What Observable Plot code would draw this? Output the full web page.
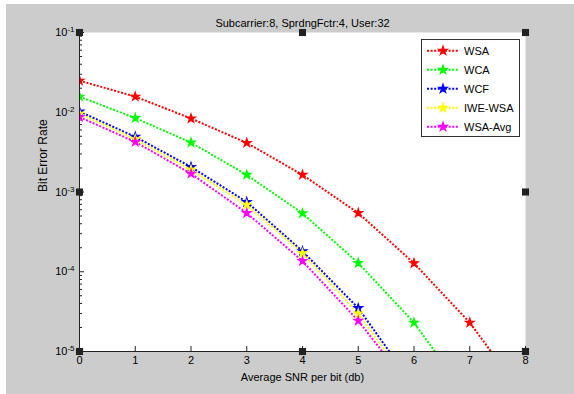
<!DOCTYPE html>
<html><head><meta charset="utf-8">
<script src="https://cdn.jsdelivr.net/npm/d3@7"></script>
<script src="https://cdn.jsdelivr.net/npm/@observablehq/plot@0.6"></script>
<style>
body{margin:0;background:#fff;font-family:"Liberation Sans",Arial,sans-serif;}
#wrap{position:relative;width:574px;height:394px;overflow:hidden}
#bg{position:absolute;left:6px;top:4px;right:0;bottom:0;background:#cccccc}
#chart{position:absolute;left:0;top:0}
#legend{position:absolute;left:421px;top:39px;width:99px;height:98px;border:1px solid #333;background:#fff;box-sizing:border-box}
#legend svg{display:block}
</style></head><body>
<div id="wrap"><div id="bg"></div><div id="chart"></div><div id="legend"></div></div>
<script>
// ---- data ----
const snr = [0, 1, 2, 3, 4, 5, 6, 7, 8];
const seriesNames = ["WSA", "WCA", "WCF", "IWE-WSA", "WSA-Avg"];
const seriesColors = ["#ff0000", "#00ff00", "#0000ff", "#ffff00", "#ff00ff"];
const wsa = [0.0249, 0.0157, 0.00836, 0.00413, 0.00164, 5.45e-4, 1.28e-4, 2.3e-5, 2.6e-6];
const wca = [0.0157, 0.00845, 0.00417, 0.00164, 5.4e-4, 1.29e-4, 2.3e-5, 2.5e-6, null];
const wcf = [0.0102, 0.00492, 0.00206, 7.5e-4, 1.81e-4, 3.5e-5, 3.7e-6, null, null];
const iwe = [0.0096, 0.0046, 0.0019, 6.9e-4, 1.71e-4, 3.0e-5, 3.3e-6, null, null];
const avg = [0.0087, 0.00425, 0.0017, 5.45e-4, 1.36e-4, 2.43e-5, 3.1e-6, null, null];
const titleText = "Subcarrier:8, SprdngFctr:4, User:32";
const xLabel = "Average SNR per bit (db)";
const yLabel = "Bit Error Rate";
const xDomain = [0, 8];
const yDomain = [1e-5, 1e-1];
const yDecades = [1e-5, 1e-4, 1e-3, 1e-2, 1e-1];

// ---- build table ----
const seriesValues = [wsa, wca, wcf, iwe, avg];
const rows = [];
seriesNames.forEach((name, i) => {
  seriesValues[i].forEach((v, j) => { if (v != null) rows.push({series: name, snr: snr[j], ber: v}); });
});
const yMinor = yDecades.slice(0, -1).flatMap(d => [2,3,4,5,6,7,8,9].map(m => m * d));
const handleAnchors = ["top-left","top","top-right","left","right","bottom-left","bottom","bottom-right"];
const axisColor = "#222";
const starR = 2.7;

const chart = Plot.plot({
  width: 574, height: 394,
  marginLeft: 79, marginRight: 49, marginTop: 32, marginBottom: 43,
  style: {background: "transparent", fontFamily: "'Liberation Sans', Arial, sans-serif", fontSize: "11px", color: "#000"},
  x: {domain: xDomain, axis: null},
  y: {type: "log", domain: yDomain, axis: null},
  color: {domain: seriesNames, range: seriesColors},
  marks: [
    Plot.frame({fill: "white", stroke: null}),
    Plot.axisY({ticks: yMinor, tickSize: -3, tickFormat: () => "", label: null, stroke: axisColor}),
    Plot.axisY({ticks: yDecades, tickSize: -5, tickFormat: () => "", label: null, stroke: axisColor}),
    Plot.axisY({ticks: yDecades, tickSize: 0, tickPadding: 5, label: null,
      tickFormat: d => "10^" + Math.round(Math.log10(d))}),
    Plot.axisX({ticks: snr, tickSize: -5, tickFormat: () => "", label: null, stroke: axisColor}),
    Plot.axisX({ticks: snr, tickSize: 0, tickPadding: 5, label: null, tickFormat: d => String(d)}),
    Plot.line(rows, {x: "snr", y: "ber", z: "series", stroke: "series", strokeWidth: 2,
      strokeDasharray: "2,1.6", strokeLinecap: "butt", clip: true}),
    Plot.dot(rows, {x: "snr", y: "ber", fill: "series", stroke: "series", symbol: "star",
      r: starR, strokeWidth: 1.2, clip: true}),
    Plot.ruleX([xDomain[0]], {stroke: axisColor}),
    Plot.ruleY([yDomain[0]], {stroke: axisColor}),
    ...handleAnchors.map(a => Plot.dot([0], {frameAnchor: a, symbol: "square", r: 4, fill: "#222", stroke: null})),
    Plot.text([titleText], {frameAnchor: "top", dy: -13, fontSize: 11}),
    Plot.text([xLabel], {frameAnchor: "bottom", dy: 29, fontSize: 11}),
    Plot.text([yLabel], {frameAnchor: "left", dx: -36, rotate: -90, fontSize: 12})
  ]
});
document.getElementById("chart").appendChild(chart);

// superscript exponents on y tick labels
d3.select(chart).selectAll('g[aria-label="y-axis tick label"] text').each(function() {
  const t = d3.select(this);
  const s = t.text();
  if (s.indexOf("^") < 0) return;
  const [base, exp] = s.split("^");
  t.text(base);
  t.append("tspan").attr("dy", "-0.5em").attr("font-size", "8px").text(exp);
});

// legend
const leg = d3.select("#legend").append("svg").attr("width", 97).attr("height", 96);
seriesNames.forEach((name, i) => {
  const y = 10.7 + i * 19;
  const g = leg.append("g");
  g.append("line").attr("x1", 5).attr("x2", 37).attr("y1", y).attr("y2", y)
    .attr("stroke", seriesColors[i]).attr("stroke-width", 2).attr("stroke-dasharray", "2,1.6");
  g.append("path").attr("d", d3.symbol(d3.symbolStar, Math.PI * starR * starR)())
    .attr("transform", `translate(21,${y})`).attr("fill", seriesColors[i])
    .attr("stroke", seriesColors[i]).attr("stroke-width", 1.2);
  g.append("text").attr("x", 42).attr("y", y).attr("dy", "0.35em")
    .attr("font-size", 11).attr("font-family", "'Liberation Sans', Arial, sans-serif").text(name);
});
</script>
</body></html>
